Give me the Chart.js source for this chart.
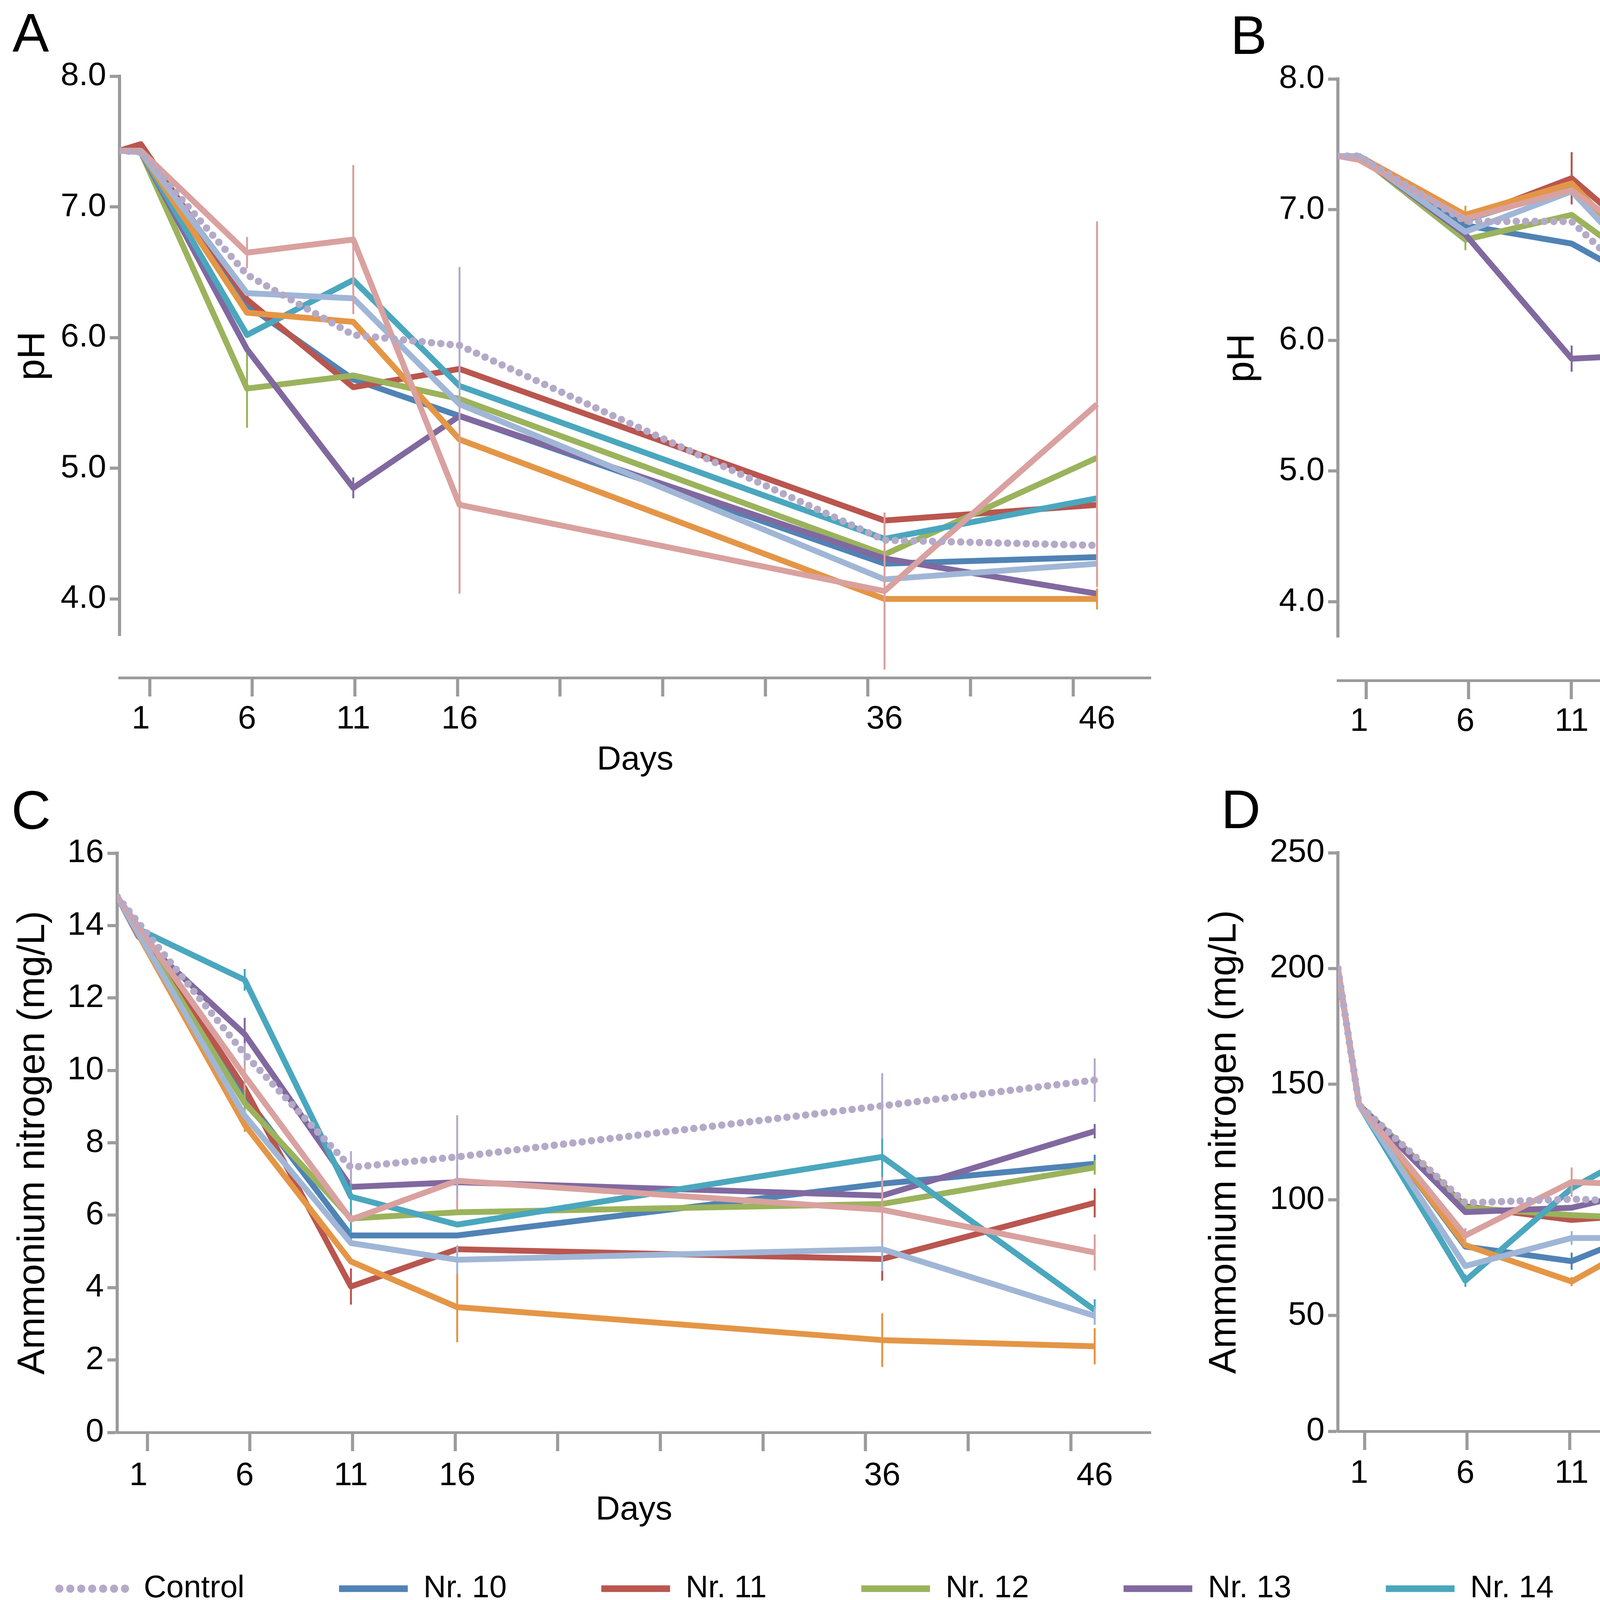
<!DOCTYPE html>
<html>
<head>
<meta charset="utf-8">
<title>pH and ammonium nitrogen</title>
<script src="https://cdn.jsdelivr.net/npm/chart.js@4.4.1/dist/chart.umd.min.js"></script>
<style>
  html, body { margin: 0; padding: 0; background: #fff; overflow: hidden; }
  body { width: 6055px; height: 4127px; position: relative; }
  .box { position: absolute; }
</style>
</head>
<body>
<div class="box" style="left:0;top:0;width:3028px;height:2000px"><canvas id="chartA"></canvas></div>
<div class="box" style="left:3028px;top:0;width:3027px;height:2000px"><canvas id="chartB"></canvas></div>
<div class="box" style="left:0;top:2000px;width:3028px;height:1960px"><canvas id="chartC"></canvas></div>
<div class="box" style="left:3028px;top:2000px;width:3027px;height:1960px"><canvas id="chartD"></canvas></div>
<div class="box" style="left:-90px;top:3785px;width:6500px;height:700px"><canvas id="legend"></canvas></div>
<script>
// sampling days and axis ticks
const days = [0, 1, 6, 11, 16, 36, 46];
const dayTicks = [1, 6, 11, 16, 36, 46];
const tickMarkDays = [1, 6, 11, 16, 21, 26, 31, 36, 41, 46];
const phTicks = [4, 5, 6, 7, 8];
const nTicksC = [0, 2, 4, 6, 8, 10, 12, 14, 16];
const nTicksD = [0, 50, 100, 150, 200, 250];

const seriesNames = ['Control', 'Nr. 10', 'Nr. 11', 'Nr. 12', 'Nr. 13', 'Nr. 14', 'Nr. 15', 'Nr. 16', 'Nr. 17'];
const seriesColors = ['#b4aac8', '#5083b5', '#b9564f', '#9bb35c', '#8169a0', '#4aa7be', '#e49646', '#a0b6d6', '#d9a19f'];

// A: pH
const phA = [
  [7.43, 7.42, 6.48, 6.02, 5.94, 4.45, 4.41],
  [7.43, 7.42, 6.25, 5.68, 5.40, 4.27, 4.32],
  [7.43, 7.48, 6.29, 5.62, 5.76, 4.60, 4.72],
  [7.43, 7.42, 5.61, 5.71, 5.53, 4.34, 5.08],
  [7.43, 7.42, 5.91, 4.85, 5.40, 4.31, 4.04],
  [7.43, 7.42, 6.02, 6.44, 5.63, 4.46, 4.77],
  [7.43, 7.42, 6.19, 6.12, 5.22, 4.00, 4.00],
  [7.43, 7.42, 6.34, 6.30, 5.49, 4.15, 4.27],
  [7.43, 7.43, 6.65, 6.75, 4.72, 4.06, 5.49]
];
const phAErr = [
  [0, 0, 0, 0, 0.6, 0, 0],
  [0, 0, 0, 0, 0, 0, 0],
  [0, 0, 0, 0, 0, 0.06, 0],
  [0, 0, 0.3, 0, 0, 0, 0],
  [0, 0, 0, 0.08, 0, 0, 0],
  [0, 0, 0, 0, 0, 0, 0],
  [0, 0, 0, 0, 0, 0, 0.08],
  [0, 0, 0, 0, 0, 0, 0],
  [0, 0, 0.12, 0.57, 0.68, 0.6, 1.4]
];

// B: pH
const phB = [
  [7.41, 7.41, 6.91, 6.91, 6.14, 5.57, 5.15],
  [7.41, 7.41, 6.88, 6.74, 6.29, 5.38, 5.38],
  [7.41, 7.41, 6.93, 7.24, 6.54, 5.34, 5.15],
  [7.41, 7.41, 6.77, 6.96, 6.37, 5.61, 5.47],
  [7.41, 7.41, 6.81, 5.86, 5.90, 5.64, 5.87],
  [7.41, 7.41, 6.92, 7.17, 6.47, 5.60, 5.24],
  [7.41, 7.41, 6.96, 7.20, 6.36, 5.26, 4.84],
  [7.41, 7.41, 6.83, 7.14, 6.28, 5.20, 4.39],
  [7.41, 7.38, 6.93, 7.15, 6.56, 5.79, 5.47]
];
const phBErr = [
  [0, 0, 0, 0, 0, 0, 0],
  [0, 0, 0, 0, 0, 0, 0],
  [0, 0, 0, 0.2, 0, 0, 0],
  [0, 0, 0.08, 0, 0, 0, 0],
  [0, 0, 0, 0.1, 0.08, 0, 0.2],
  [0, 0, 0, 0, 0, 0, 0],
  [0, 0, 0.07, 0, 0, 0, 0],
  [0, 0, 0, 0, 0, 0.23, 0.12],
  [0, 0, 0, 0, 0.38, 0.39, 0]
];

// C: ammonium nitrogen (mg/L)
const nhC = [
  [14.8, null, 10.45, 7.32, 7.61, 9.02, 9.73],
  [14.8, null, 9.3, 5.44, 5.44, 6.87, 7.42],
  [14.8, null, 9.5, 4.03, 5.06, 4.79, 6.34],
  [14.8, null, 9.1, 5.91, 6.08, 6.31, 7.32],
  [14.8, 13.7, 11.0, 6.78, 6.91, 6.54, 8.32],
  [14.8, 13.9, 12.5, 6.51, 5.74, 7.61, 3.38],
  [14.8, null, 8.5, 4.72, 3.46, 2.55, 2.38],
  [14.8, null, 8.75, 5.23, 4.77, 5.06, 3.22],
  [14.8, null, 9.85, 5.88, 6.95, 6.15, 4.97]
];
const nhCErr = [
  [0, 0, 0.3, 0.45, 1.15, 0.9, 0.6],
  [0, 0, 0, 0.25, 0, 0, 0.25],
  [0, 0, 0, 0.5, 0, 0.6, 0.4],
  [0, 0, 0.35, 0, 0, 0, 0.2],
  [0, 0, 0.45, 0, 0, 0, 0.2],
  [0, 0, 0.3, 1.0, 0, 1.75, 0.3],
  [0, 0, 0.2, 0, 0.97, 0.74, 0.5],
  [0, 0, 0, 0, 0.4, 0.6, 0.25],
  [0, 0, 0.4, 0, 0.8, 0.9, 0.5]
];

// D: ammonium nitrogen (mg/L)
const nhD = [
  [200, 141, 98.7, 100.3, 98.7, 74.1, 116.5],
  [200, 141, 79.8, 73.5, 91.9, 59.4, 96.6],
  [200, 141, 97.2, 91.3, 94.7, 81.4, 100.3],
  [200, 141, 96.6, 93.4, 91.5, 80.4, 95.5],
  [200, 141, 94.7, 96.6, 107.1, 89.4, 106.0],
  [200, 141, 65.1, 105.0, 130.1, 89.2, 109.2],
  [200, 141, 80.4, 64.7, 90.3, 73.0, 94.5],
  [200, 141, 71.4, 83.5, 83.5, 49.3, 79.3],
  [200, 141, 84.6, 107.7, 106.0, 74.5, 103.5]
];
const nhDErr = [
  [0, 0, 0, 0, 0, 0, 3],
  [0, 0, 0, 3.7, 0, 3, 0],
  [0, 0, 0, 0, 0, 0, 0],
  [0, 0, 0, 0, 0, 0, 0],
  [0, 0, 0, 0, 8, 0, 0],
  [0, 0, 2.7, 0, 5.2, 6.3, 3],
  [0, 0, 0, 2, 0, 3.5, 3.7],
  [0, 0, 0, 3, 0, 3, 5.8],
  [0, 0, 3.2, 6.3, 0, 0, 0]
];

const FONT = "'Liberation Sans', Arial, Helvetica, sans-serif";
const GREY = '#9b9b9b';
const PX_PER_DAY = 54.4;
const TICK_PX_PER_DAY = 262.7 / 5;
const TICK_LEN = 48;

Chart.defaults.font.family = FONT;
Chart.defaults.color = '#000';

const errorBars = {
  id: 'errorBars',
  afterDatasetDraw(chart, args) {
    const ds = chart.data.datasets[args.index];
    if (!ds.errorBars) return;
    const y = chart.scales.y;
    const ctx = chart.ctx;
    ctx.save();
    ctx.strokeStyle = ds.borderColor;
    ctx.lineWidth = 5;
    args.meta.data.forEach((pt, i) => {
      const v = ds.data[i].y;
      const e = ds.errorBars[i];
      if (v == null || !e) return;
      ctx.beginPath();
      ctx.moveTo(pt.x, y.getPixelForValue(v + e));
      ctx.lineTo(pt.x, y.getPixelForValue(v - e));
      ctx.stroke();
    });
    ctx.restore();
  }
};

const panelLetter = {
  id: 'panelLetter',
  afterDraw(chart, args, opts) {
    const ctx = chart.ctx;
    ctx.save();
    ctx.font = opts.size + 'px ' + FONT;
    ctx.fillStyle = '#000';
    ctx.textBaseline = 'alphabetic';
    ctx.fillText(opts.text, opts.x, opts.y);
    ctx.restore();
  }
};

// layout of each panel, in canvas pixels
const panels = [
  { id: 'chartA', letter: 'A', lx: 32, ly: 132, values: phA, errors: phAErr, yTitle: 'pH', yTicks: phTicks, yMin: 3.72, yMax: 8, digits: 1,
    w: 3028, h: 2000, left: 306, top: 195, rightPad: 82, bottom: 1627, gap: 108, tickOff: 77, labelY: 1842, titleY: 1946, yTitleX: 86 },
  { id: 'chartB', letter: 'B', lx: 122, ly: 138, values: phB, errors: phBErr, yTitle: 'pH', yTicks: phTicks, yMin: 3.73, yMax: 8, digits: 1,
    w: 3027, h: 2000, left: 397, top: 202, rightPad: 49, bottom: 1631, gap: 111, tickOff: 72, labelY: 1848, titleY: 1950, yTitleX: 154 },
  { id: 'chartC', letter: 'C', lx: 29, ly: 122, values: nhC, errors: nhCErr, yTitle: 'Ammonium nitrogen (mg/L)', yTicks: nTicksC, yMin: 0, yMax: 16, digits: 0,
    w: 3028, h: 1960, left: 300, top: 184, rightPad: 82, bottom: 1667, gap: 0, tickOff: 77, labelY: 1779, titleY: 1866, yTitleX: 86 },
  { id: 'chartD', letter: 'D', lx: 98, ly: 120, values: nhD, errors: nhDErr, yTitle: 'Ammonium nitrogen (mg/L)', yTicks: nTicksD, yMin: 0, yMax: 250, digits: 0,
    w: 3027, h: 1960, left: 397, top: 183, rightPad: 49, bottom: 1664, gap: 0, tickOff: 68, labelY: 1773, titleY: 1862, yTitleX: 108 }
];

function buildPanel(p) {
  const areaW = p.w - p.rightPad - p.left;
  const xLine = p.bottom + p.gap;
  const labelAxisH = p.h - xLine - TICK_LEN;
  const tickFont = { size: 84, lineHeight: 1.2 };
  const tMin = 1 - p.tickOff / TICK_PX_PER_DAY;

  const datasets = seriesNames.map((name, k) => ({
    label: name,
    xAxisID: 'x',
    yAxisID: 'y',
    data: days.map((d, i) => ({ x: d, y: p.values[k][i] })),
    errorBars: p.errors[k],
    borderColor: seriesColors[k],
    backgroundColor: seriesColors[k],
    borderWidth: k === 0 ? 19 : 15,
    borderDash: k === 0 ? [0, 24] : [],
    borderCapStyle: k === 0 ? 'round' : 'butt',
    borderJoinStyle: 'round',
    pointRadius: 0,
    pointHoverRadius: 0,
    tension: 0,
    spanGaps: true,
    fill: false,
    order: k === 0 ? 0 : seriesNames.length - k
  }));

  return new Chart(document.getElementById(p.id), {
    type: 'line',
    data: { datasets },
    options: {
      responsive: true,
      maintainAspectRatio: false,
      animation: false,
      devicePixelRatio: 1,
      events: [],
      layout: { padding: { top: p.top, right: p.rightPad, bottom: 0, left: 0 } },
      plugins: {
        legend: { display: false },
        tooltip: { enabled: false },
        panelLetter: { text: p.letter, x: p.lx, y: p.ly, size: 140 }
      },
      scales: {
        y: {
          type: 'linear', position: 'left', min: p.yMin, max: p.yMax,
          afterBuildTicks: s => { s.ticks = p.yTicks.map(v => ({ value: v })); },
          ticks: { font: tickFont, padding: 9, color: '#000', callback: v => v.toFixed(p.digits) },
          grid: { drawOnChartArea: false, drawTicks: true, tickLength: 25, tickWidth: 8, color: GREY },
          border: { display: true, width: 8, color: GREY },
          title: { display: true, text: p.yTitle, color: '#000', font: { size: 98, lineHeight: 1 }, padding: { top: p.yTitleX - 49, bottom: 0 } },
          afterFit: s => { s.width = p.left; }
        },
        gap: {
          type: 'linear', position: 'bottom', weight: 1, min: 0, max: 1,
          ticks: { display: false },
          grid: { display: false, drawTicks: false },
          border: { display: false },
          afterFit: s => { s.height = p.gap; }
        },
        xt: {
          type: 'linear', position: 'bottom', weight: 2,
          min: tMin, max: tMin + areaW / TICK_PX_PER_DAY,
          afterBuildTicks: s => { s.ticks = tickMarkDays.map(v => ({ value: v })); },
          ticks: { display: false },
          grid: { display: true, drawOnChartArea: false, drawTicks: true, tickLength: TICK_LEN, tickWidth: 8, color: GREY },
          border: { display: true, width: 7, color: GREY },
          afterFit: s => { s.height = TICK_LEN; }
        },
        x: {
          type: 'linear', position: 'bottom', weight: 3,
          min: 0, max: areaW / PX_PER_DAY,
          afterBuildTicks: s => { s.ticks = dayTicks.map(v => ({ value: v })); },
          ticks: { font: tickFont, color: '#000', maxRotation: 0, autoSkip: false,
                   padding: p.labelY - (xLine + TICK_LEN) - tickFont.size * 0.6,
                   callback: v => String(v) },
          grid: { display: false, drawTicks: false },
          border: { display: false },
          title: { display: true, text: 'Days', color: '#000', font: { size: 86, lineHeight: 1 },
                   padding: { top: 0, bottom: p.h - p.titleY - 43 } },
          afterFit: s => { s.height = labelAxisH; }
        }
      }
    },
    plugins: [errorBars, panelLetter]
  });
}

panels.forEach(buildPanel);

// shared legend along the bottom
new Chart(document.getElementById('legend'), {
  type: 'line',
  data: { datasets: seriesNames.map((name, k) => ({ label: name, data: [], borderColor: seriesColors[k] })) },
  options: {
    responsive: true,
    maintainAspectRatio: false,
    animation: false,
    devicePixelRatio: 1,
    events: [],
    scales: { x: { display: false }, y: { display: false } },
    plugins: {
      tooltip: { enabled: false },
      legend: {
        display: true,
        position: 'top',
        align: 'start',
        labels: {
          usePointStyle: true,
          pointStyleWidth: 176,
          boxHeight: 17,
          padding: 242,
          color: '#000',
          font: { size: 80 },
          generateLabels: chart => chart.data.datasets.map((ds, k) => ({
            text: ds.label,
            fillStyle: 'rgba(0,0,0,0)',
            strokeStyle: ds.borderColor,
            lineWidth: k === 0 ? 21 : 17,
            lineCap: k === 0 ? 'round' : 'butt',
            lineDash: k === 0 ? [0, 28] : [],
            pointStyle: 'line',
            fontColor: '#000',
            hidden: false,
            datasetIndex: k
          }))
        }
      }
    }
  }
});
</script>
</body>
</html>
